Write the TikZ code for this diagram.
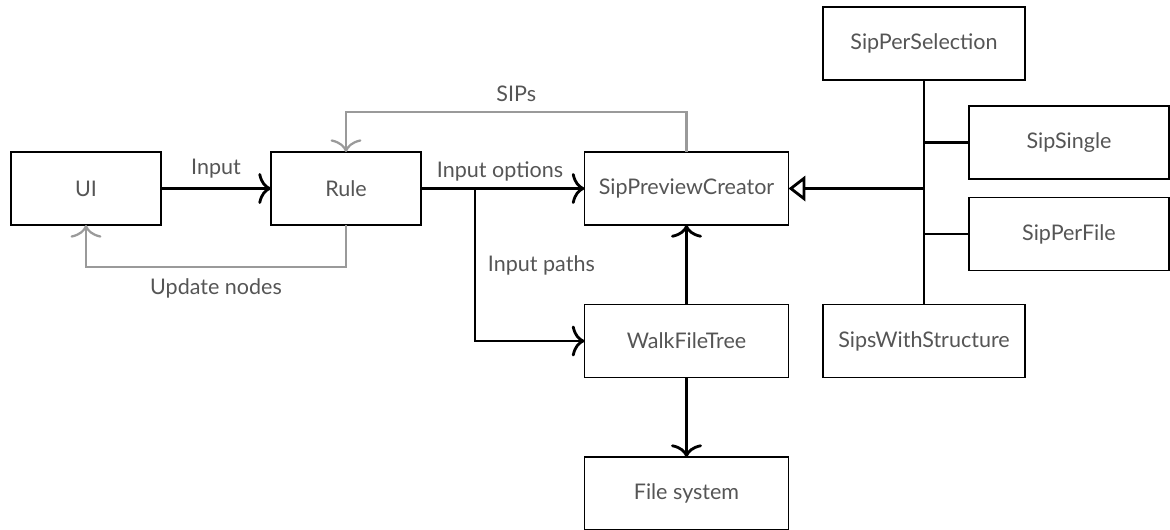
\documentclass[tikz,border=0pt]{standalone}
\usepackage{fontspec}
\setmainfont{Lato}
\usetikzlibrary{arrows.meta}
\definecolor{boxtext}{HTML}{555555}
\definecolor{backline}{HTML}{9A9A9A}

\begin{document}
\begin{tikzpicture}[x=0.025cm,y=-0.025cm,
    font=\fontsize{15.3}{17}\selectfont,
    box/.style={draw=black,line width=1pt,text=boxtext,minimum height=1.825cm,inner sep=0pt,outer sep=0pt},
    flow/.style={draw=black,line width=2pt,-{Computer Modern Rightarrow[length=9pt,width=22pt]}},
    back/.style={draw=backline,line width=1.6pt,-{Computer Modern Rightarrow[length=9pt,width=22pt]}},
    bus/.style={draw=black,line width=2pt},
    lbl/.style={text=boxtext}]
    \useasboundingbox (0,0) rectangle (1170,529);

    \node[box,minimum width=3.75cm] (ui) at (86,188.5) {UI};
    \node[box,minimum width=3.75cm] (rule) at (346,188.5) {Rule};
    \node[box,minimum width=5.1cm] (spc) at (686.5,188.5) {SipPreviewCreator};
    \node[box,minimum width=5.1cm] (wft) at (686.5,341) {WalkFileTree};
    \node[box,minimum width=5.1cm] (fs) at (686.5,493.5) {File system};

    \node[box,minimum width=5.05cm] (sel) at (924,43.5) {SipPerSelection};
    \node[box,minimum width=5cm] (single) at (1069,142.5) {SipSingle};
    \node[box,minimum width=5cm] (perfile) at (1069,234) {SipPerFile};
    \node[box,minimum width=5.05cm] (struct) at (924,341) {SipsWithStructure};

    % forward flow
    \draw[flow] (ui) -- node[lbl,above=3pt] {Input} (rule);
    \coordinate (split) at (475,188.5);
    \draw[flow] (rule) -- (spc);
    \node[lbl,anchor=west] (optlbl) at (432,171) {Input options};
    \draw[flow] (split) |- (wft);
    \node[lbl,anchor=west] (pathlbl) at (483,265) {Input paths};
    \draw[flow] (wft) -- (spc);
    \draw[flow] (wft) -- (fs);

    % feedback
    \draw[back] (spc.north) -- ++(0,-40) -| node[pos=.25,lbl,above=3pt] {SIPs} (rule.north);
    \draw[back] (rule.south) -- ++(0,42) -| node[pos=.25,lbl,below=4pt] {Update nodes} (ui.south);

    % strategies
    \draw[bus] (sel.south) -- (struct.north);
    \draw[bus] (single.west) -- (single.west -| sel.south);
    \draw[bus] (perfile.west) -- (perfile.west -| sel.south);
    \draw[bus,-{Triangle[open,length=12pt,width=18pt,fill=white]}] (spc.east -| sel.south) -- (spc.east);
\end{tikzpicture}
\end{document}
